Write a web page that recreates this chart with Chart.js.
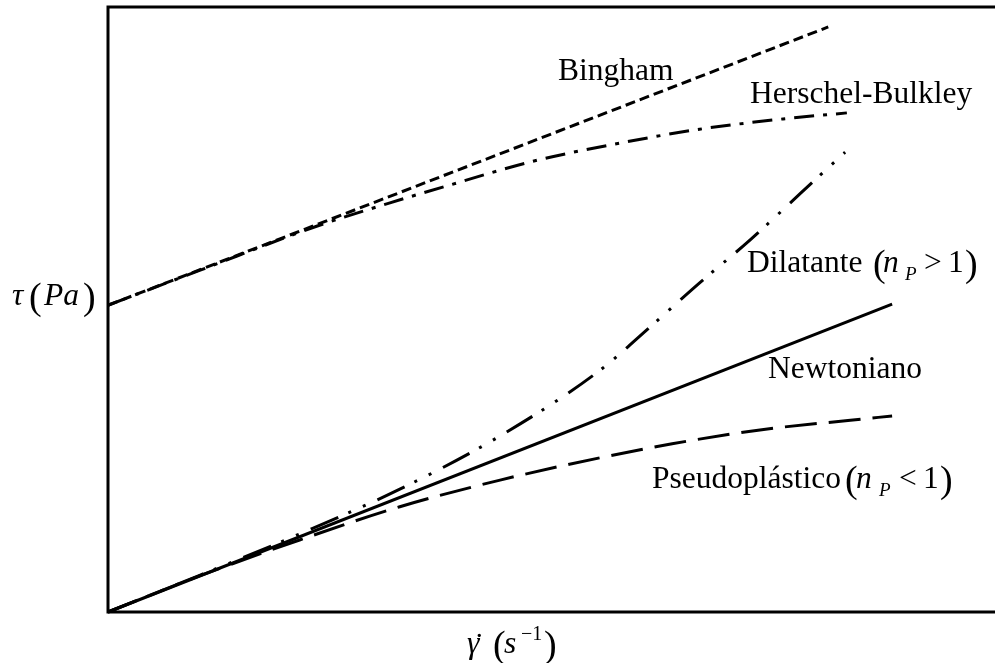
<!DOCTYPE html>
<html>
<head>
<meta charset="utf-8">
<script src="https://cdn.jsdelivr.net/npm/chart.js@4/dist/chart.umd.min.js"></script>
<style>
  html, body { margin: 0; padding: 0; background: #fff; overflow: hidden; }
  #wrap { width: 995px; height: 663px; position: relative; }
</style>
</head>
<body>
<div id="wrap"><canvas id="c" width="995" height="663"></canvas></div>
<script>
// Shear rate (x) vs. shear stress (y) for each flow model, arbitrary units
const newtonX = [0, 8.84];
const newtonY = [0, 5.09];

const pseudoX = [0, 1.04, 2.16, 3.29, 4.42, 5.55, 6.36, 7.35, 8.37, 8.84];
const pseudoY = [0, 0.60, 1.19, 1.74, 2.18, 2.55, 2.78, 3.01, 3.17, 3.24];

const dilatX = [0, 1.04, 2.16, 3.29, 4.42, 5.55, 6.11, 6.67, 7.24, 7.80, 8.31];
const dilatY = [0, 0.61, 1.29, 2.03, 2.91, 4.00, 4.71, 5.44, 6.15, 6.91, 7.60];

const binghamX = [0, 8.12];
const binghamY = [5.07, 9.67];

const hbX = [0, 1.04, 2.36, 3.33, 3.86, 4.79, 5.77, 6.67, 7.61, 8.33];
const hbY = [5.07, 5.65, 6.38, 6.83, 7.06, 7.45, 7.75, 7.98, 8.15, 8.25];

const seriesNames = ['Newtoniano', 'Pseudoplástico', 'Dilatante', 'Bingham', 'Herschel-Bulkley'];

const pts = (xs, ys) => xs.map((x, i) => ({ x, y: ys[i] }));

const SERIF = '"Liberation Serif", "Times New Roman", serif';
const F = 31.5;

function base(name, xs, ys, dash, curved) {
  return {
    label: name,
    data: pts(xs, ys),
    showLine: true,
    borderColor: '#000',
    borderWidth: 3,
    borderDash: dash,
    borderCapStyle: 'butt',
    pointRadius: 0,
    fill: false,
    tension: curved ? 0.4 : 0,
    cubicInterpolationMode: curved ? 'monotone' : 'default',
    clip: 4
  };
}

// Frame: top, left and bottom edges of the plotting area
const framePlugin = {
  id: 'frame',
  beforeDatasetsDraw(chart) {
    const { ctx, chartArea: a } = chart;
    ctx.save();
    ctx.strokeStyle = '#000';
    ctx.lineWidth = 3;
    ctx.beginPath();
    ctx.moveTo(a.right, a.top);
    ctx.lineTo(a.left, a.top);
    ctx.lineTo(a.left, a.bottom);
    ctx.lineTo(a.right, a.bottom);
    ctx.stroke();
    ctx.restore();
  }
};

// Curve names and axis titles, with their math notation
const labelPlugin = {
  id: 'curveLabels',
  afterDraw(chart) {
    const ctx = chart.ctx;
    ctx.save();
    ctx.fillStyle = '#000';
    ctx.textBaseline = 'alphabetic';
    ctx.textAlign = 'left';
    const up = `${F}px ${SERIF}`;
    const it = `italic ${F}px ${SERIF}`;
    const par = `38px ${SERIF}`;
    const sub = `italic 19px ${SERIF}`;
    const put = (s, x, y, font) => { ctx.font = font; ctx.fillText(s, x, y); };

    put(seriesNames[3], 558, 80, up);
    put(seriesNames[4], 750, 103, up);

    put(seriesNames[2], 747, 272, up);
    put('(', 873, 276, par);
    put('n', 883, 272, it);
    put('P', 905, 280, sub);
    put('>', 924, 272, up);
    put('1', 948, 272, up);
    put(')', 965, 276, par);

    put(seriesNames[0], 768, 378, up);

    put(seriesNames[1], 652, 488, up);
    put('(', 845, 492, par);
    put('n', 856, 488, it);
    put('P', 879, 496, sub);
    put('<', 899, 488, up);
    put('1', 923, 488, up);
    put(')', 940, 492, par);

    // y-axis title
    put('\u03C4', 12, 305, it);
    put('(', 29, 309, par);
    put('Pa', 44, 305, it);
    put(')', 83, 309, par);

    // x-axis title
    put('\u03B3', 467, 653, it);
    put('\u02D9', 474, 655, up);
    put('(', 493, 657, par);
    put('s', 504, 653, it);
    put('\u22121', 521, 640, `20px ${SERIF}`);
    put(')', 544, 657, par);
    ctx.restore();
  }
};

new Chart(document.getElementById('c'), {
  type: 'scatter',
  data: {
    datasets: [
      base(seriesNames[0], newtonX, newtonY, [], false),
      base(seriesNames[1], pseudoX, pseudoY, [32, 12], true),
      base(seriesNames[2], dilatX, dilatY, [30, 11, 3, 13, 3, 13], true),
      base(seriesNames[3], binghamX, binghamY, [10, 5], false),
      base(seriesNames[4], hbX, hbY, [20, 9, 4, 9], true)
    ]
  },
  options: {
    responsive: false,
    animation: false,
    devicePixelRatio: 1,
    layout: { padding: { left: 108, top: 7, right: 0, bottom: 51 } },
    plugins: { legend: { display: false }, tooltip: { enabled: false } },
    scales: {
      x: { type: 'linear', min: 0, max: 10, display: false },
      y: { type: 'linear', min: 0, max: 10, display: false }
    }
  },
  plugins: [framePlugin, labelPlugin]
});
</script>
</body>
</html>
